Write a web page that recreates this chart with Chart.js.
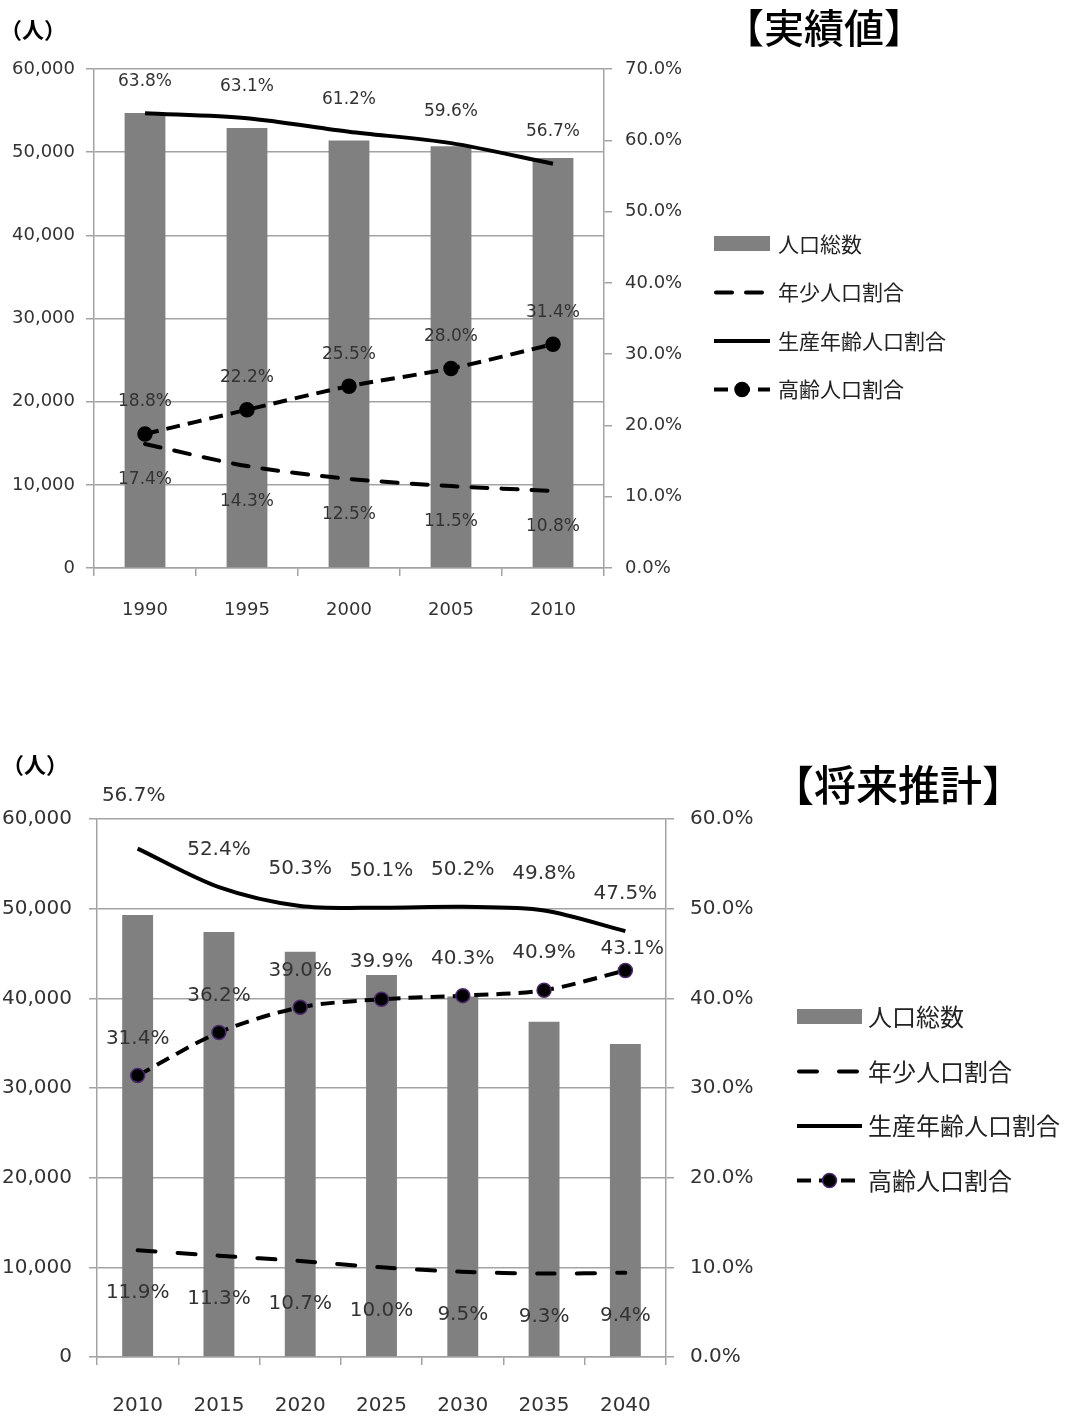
<!DOCTYPE html>
<html>
<head>
<meta charset="utf-8">
<script src="https://cdn.jsdelivr.net/npm/chart.js@4.4.1/dist/chart.umd.min.js"></script>
<style>
  body { margin: 0; background: #fff; }
  .wrap { position: absolute; left: 0; }
</style>
</head>
<body>
<div class="wrap" style="top:0"><canvas id="actual" width="1070" height="660"></canvas></div>
<div class="wrap" style="top:700px"><canvas id="projection" width="1070" height="719"></canvas></div>
<script>
// 実績値
const yearsActual   = ['1990', '1995', '2000', '2005', '2010'];
const popActual     = [54700, 52900, 51400, 50700, 49300];
const youthActual   = [17.4, 14.3, 12.5, 11.5, 10.8];
const workingActual = [63.8, 63.1, 61.2, 59.6, 56.7];
const elderlyActual = [18.8, 22.2, 25.5, 28.0, 31.4];

// 将来推計
const yearsProj   = ['2010', '2015', '2020', '2025', '2030', '2035', '2040'];
const popProj     = [49300, 47400, 45200, 42600, 40200, 37400, 34900];
const youthProj   = [11.9, 11.3, 10.7, 10.0, 9.5, 9.3, 9.4];
const workingProj = [56.7, 52.4, 50.3, 50.1, 50.2, 49.8, 47.5];
const elderlyProj = [31.4, 36.2, 39.0, 39.9, 40.3, 40.9, 43.1];

const seriesNames = ['人口総数', '年少人口割合', '生産年齢人口割合', '高齢人口割合'];

const NUM_FONT = '"DejaVu Sans", Verdana, sans-serif';
const JP_FONT = '"Noto Sans CJK JP", sans-serif';
const GRID = '#a3a3a3';
const TEXT = '#333';

// value labels above / below the line points
const valueLabels = {
  id: 'valueLabels',
  afterDatasetsDraw(chart, args, opts) {
    const ctx = chart.ctx;
    ctx.save();
    ctx.font = opts.size + 'px ' + NUM_FONT;
    ctx.fillStyle = TEXT;
    ctx.textAlign = 'center';
    ctx.textBaseline = 'middle';
    chart.data.datasets.forEach((ds, di) => {
      if (ds.type !== 'line') return;
      const meta = chart.getDatasetMeta(di);
      meta.data.forEach((pt, i) => {
        let dx = 0, dy = opts.offsets[di];
        (opts.shifts || []).forEach(s => {
          if (s.ds === di && s.i === i) { dx += s.dx; dy += s.dy; }
        });
        ctx.fillText(ds.data[i].toFixed(1) + '%', pt.x + dx, pt.y + dy);
      });
    });
    ctx.restore();
  }
};

// title, unit and legend
const sideText = {
  id: 'sideText',
  afterDraw(chart, args, opts) {
    const ctx = chart.ctx;
    ctx.save();
    ctx.fillStyle = '#000';
    ctx.textBaseline = 'middle';
    ctx.font = '500 ' + opts.titleSize + 'px ' + JP_FONT;
    ctx.fillText(opts.title, opts.titleX, opts.titleY);
    ctx.font = 'bold ' + opts.unitSize + 'px ' + JP_FONT;
    ctx.fillText('（人）', opts.unitX, opts.unitY);

    const lg = opts.legend;
    ctx.font = lg.size + 'px ' + JP_FONT;
    chart.data.datasets.forEach((ds, i) => {
      const y = lg.y + i * lg.step;
      const x = lg.x;
      ctx.fillStyle = '#222';
      ctx.fillText(ds.label, lg.textX, y);
      if (ds.type === 'bar') {
        ctx.fillStyle = ds.backgroundColor;
        ctx.fillRect(x, y - 8, lg.w, 15);
        return;
      }
      ctx.strokeStyle = ds.borderColor;
      ctx.lineWidth = ds.borderWidth;
      ctx.lineCap = ds.borderCapStyle || 'butt';
      ctx.setLineDash(ds.borderDash || []);
      ctx.beginPath();
      ctx.moveTo(x + (ds.borderCapStyle === 'round' ? 2 : 0), y);
      ctx.lineTo(x + lg.w, y);
      ctx.stroke();
      ctx.setLineDash([]);
      if (ds.pointRadius) {
        ctx.fillStyle = ds.pointBackgroundColor;
        ctx.strokeStyle = ds.pointBorderColor;
        ctx.lineWidth = 1.5;
        ctx.beginPath();
        ctx.arc(x + lg.w / 2, y, ds.pointRadius, 0, Math.PI * 2);
        ctx.fill();
        ctx.stroke();
      }
    });
    ctx.restore();
  }
};

function buildChart(canvasId, s) {
  return new Chart(document.getElementById(canvasId).getContext('2d'), {
    data: {
      labels: s.labels,
      datasets: [
        {
          type: 'bar', label: seriesNames[0], data: s.pop, yAxisID: 'y',
          backgroundColor: '#808080', barPercentage: s.barPct, categoryPercentage: 1, order: 1
        },
        {
          type: 'line', label: seriesNames[1], data: s.youth, yAxisID: 'y1',
          borderColor: '#000', borderWidth: 4, borderDash: s.youthDash, borderCapStyle: 'round',
          pointRadius: 0, tension: 0.3, order: 0
        },
        {
          type: 'line', label: seriesNames[2], data: s.working, yAxisID: 'y1',
          borderColor: '#000', borderWidth: 4, pointRadius: 0, tension: 0.3, order: 0
        },
        {
          type: 'line', label: seriesNames[3], data: s.elderly, yAxisID: 'y1',
          borderColor: '#000', borderWidth: 4, borderDash: [14, 8],
          pointRadius: 7, pointBackgroundColor: '#000', pointBorderColor: s.markerEdge,
          pointBorderWidth: 1.5, tension: 0.3, order: 0
        }
      ]
    },
    options: {
      responsive: false,
      animation: false,
      layout: { padding: s.padding },
      plugins: {
        legend: { display: false },
        tooltip: { enabled: false },
        valueLabels: { size: s.labelSize, offsets: [0, s.below, s.above, s.above], shifts: s.shifts },
        sideText: s.side
      },
      scales: {
        x: {
          offset: true,
          grid: { offset: true, drawOnChartArea: false, color: GRID, lineWidth: 1.5, tickLength: 8 },
          border: { color: GRID, width: 1.5 },
          ticks: { color: TEXT, font: { family: NUM_FONT, size: s.axisSize }, padding: s.xPad },
          afterFit: sc => { sc.height = 60; }
        },
        y: {
          position: 'left', min: 0, max: 60000,
          ticks: {
            stepSize: 10000, color: TEXT, padding: s.yPad,
            font: { family: NUM_FONT, size: s.axisSize },
            callback: v => v.toLocaleString('en-US')
          },
          grid: { color: GRID, lineWidth: 1.5, tickLength: 8 },
          border: { color: GRID, width: 1.5 },
          afterFit: sc => { sc.width = s.leftW; }
        },
        y1: {
          position: 'right', min: 0, max: s.pctMax,
          ticks: {
            stepSize: 10, color: TEXT, padding: s.y1Pad,
            font: { family: NUM_FONT, size: s.axisSize },
            callback: v => v.toFixed(1) + '%'
          },
          grid: { drawOnChartArea: false, color: GRID, lineWidth: 1.5, tickLength: 8 },
          border: { color: GRID, width: 1.5 },
          afterFit: sc => { sc.width = s.rightW; }
        }
      }
    },
    plugins: [valueLabels, sideText]
  });
}

buildChart('actual', {
  labels: yearsActual, pop: popActual, youth: youthActual,
  working: workingActual, elderly: elderlyActual,
  barPct: 0.4, youthDash: [16, 14], markerEdge: '#000', pctMax: 70,
  padding: { top: 69, left: 0, right: 366, bottom: 32 },
  leftW: 94, rightW: 100, axisSize: 18, labelSize: 17,
  xPad: 24, yPad: 11, y1Pad: 13,
  below: 36, above: -32, shifts: [],
  side: {
    title: '【実績値】', titleSize: 40, titleX: 724, titleY: 28,
    unitSize: 22, unitX: 0, unitY: 30,
    legend: { x: 714, w: 56, textX: 778, y: 244, step: 48.5, size: 21 }
  }
});

buildChart('projection', {
  labels: yearsProj, pop: popProj, youth: youthProj,
  working: workingProj, elderly: elderlyProj,
  barPct: 0.38, youthDash: [18, 22], markerEdge: '#4b2a6b', pctMax: 60,
  padding: { top: 119, left: 0, right: 294, bottom: 2 },
  leftW: 97, rightW: 110, axisSize: 20, labelSize: 20,
  xPad: 29, yPad: 17, y1Pad: 16,
  below: 43, above: -37,
  shifts: [{ ds: 2, i: 0, dx: -4, dy: -16 }, { ds: 3, i: 6, dx: 7, dy: 15 }],
  side: {
    title: '【将来推計】', titleSize: 42, titleX: 772, titleY: 85,
    unitSize: 22, unitX: 2, unitY: 65,
    legend: { x: 797, w: 65, textX: 868, y: 317, step: 54.5, size: 24 }
  }
});
</script>
</body>
</html>
